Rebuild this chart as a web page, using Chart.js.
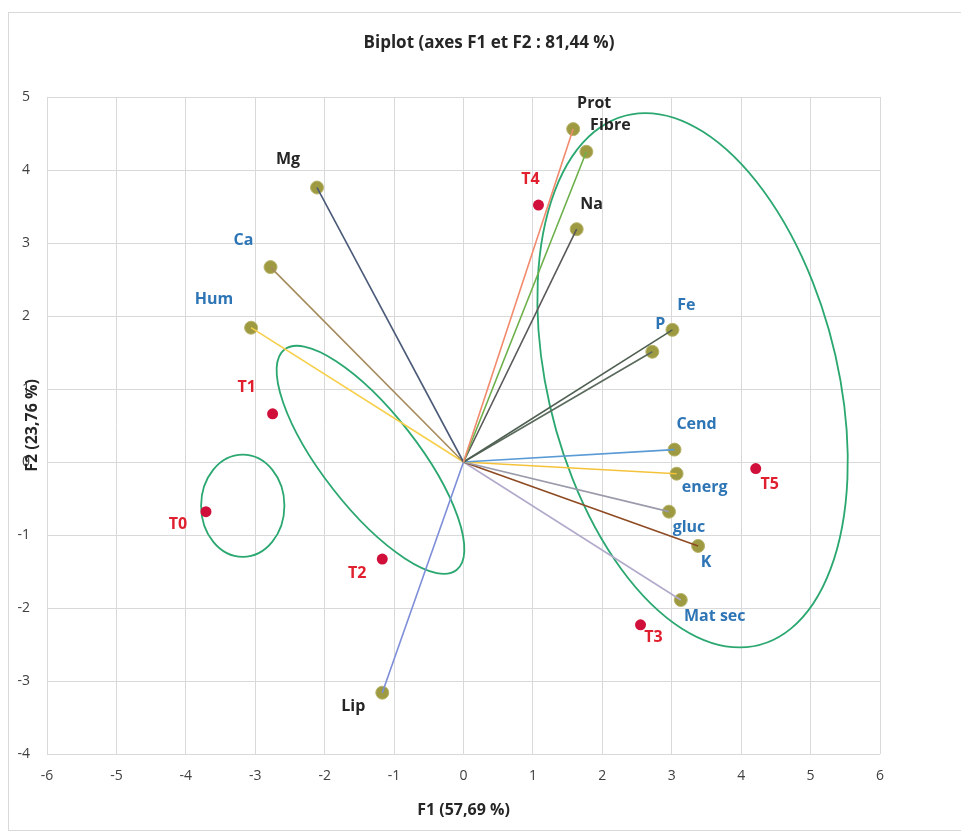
<!DOCTYPE html>
<html>
<head>
<meta charset="utf-8">
<script src="https://cdn.jsdelivr.net/npm/chart.js@4.4.1/dist/chart.umd.min.js"></script>
<style>
  html, body { margin: 0; padding: 0; background: #fff; }
  #wrap { position: relative; width: 961px; height: 833px; }
</style>
</head>
<body>
<div id="wrap"><canvas id="biplot" width="961" height="833"></canvas></div>
<script>
// Variables (vecteurs) : coordonnées sur F1 / F2
var variables = ['Prot', 'Fibre', 'Na', 'Mg', 'Ca', 'Hum', 'Lip', 'Fe', 'P', 'Cend', 'energ', 'gluc', 'K', 'Mat sec'];
var varF1 = [1.58, 1.77, 1.63, -2.11, -2.78, -3.06, -1.17, 3.01, 2.72, 3.04, 3.07, 2.96, 3.38, 3.13];
var varF2 = [4.56, 4.25, 3.19, 3.76, 2.67, 1.84, -3.16, 1.81, 1.51, 0.17, -0.16, -0.68, -1.15, -1.89];

// Observations
var observations = ['T0', 'T1', 'T2', 'T3', 'T4', 'T5'];
var obsF1 = [-3.71, -2.75, -1.17, 2.55, 1.08, 4.21];
var obsF2 = [-0.68, 0.66, -1.33, -2.23, 3.52, -0.09];

// Ellipses de regroupement : centre + demi-diamètres conjugués (unités des axes)
var ellipseCF1 = [-3.18, -1.34, 3.30];
var ellipseCF2 = [-0.60, 0.03, 1.12];
var ellipseU = [[0.60, 0], [-1.24, 1.51], [-0.68, 3.66]];
var ellipseV = [[0, 0.70], [0.54, 0.40], [2.13, 0]];

// Styles
var vectorColors = ['#F28A6E', '#6DB04A', '#595959', '#4A5A78', '#A58A5C', '#F7CF4A', '#7D8ED8',
  '#4F5F52', '#5A6A5C', '#5B9BD5', '#F5C33B', '#9A9AAA', '#8E4A22', '#B2AACB'];
var varLabelColors = ['#262626', '#262626', '#262626', '#262626', '#2E75B6', '#2E75B6', '#262626',
  '#2E75B6', '#2E75B6', '#2E75B6', '#2E75B6', '#2E75B6', '#2E75B6', '#2E75B6'];
var varLabelOffsets = [[21, -26], [24, -26], [15, -25], [-29, -28], [-27, -27], [-37, -28], [-29, 14],
  [14, -24], [8, -27], [22, -25], [28, 14], [20, 16], [8, 16], [34, 16]];
var obsLabelOffsets = [[-28, 13], [-26, -26], [-25, 14], [13, 13], [-8, -26], [14, 16]];

var labelFont = 'bold 16px "Open Sans", sans-serif';

var datasets = [];

// un segment par variable, depuis l'origine
variables.forEach(function (name, i) {
  datasets.push({
    label: name,
    type: 'line',
    data: [{ x: 0, y: 0 }, { x: varF1[i], y: varF2[i] }],
    borderColor: vectorColors[i],
    borderWidth: 1.6,
    pointRadius: 0,
    fill: false
  });
});

datasets.push({
  label: 'Variables',
  data: variables.map(function (n, i) { return { x: varF1[i], y: varF2[i] }; }),
  backgroundColor: '#9D9A42',
  borderColor: '#B8B36A',
  borderWidth: 1,
  pointRadius: 6.5
});

datasets.push({
  label: 'Observations',
  data: observations.map(function (n, i) { return { x: obsF1[i], y: obsF2[i] }; }),
  backgroundColor: '#D0103A',
  borderColor: '#D0103A',
  borderWidth: 0,
  pointRadius: 5.5
});

// Ellipses dessinées via les échelles
var ellipsePlugin = {
  id: 'ellipses',
  beforeDatasetsDraw: function (chart) {
    var c = chart.ctx, xs = chart.scales.x, ys = chart.scales.y;
    var x0 = xs.getPixelForValue(0), y0 = ys.getPixelForValue(0);
    c.save();
    c.strokeStyle = '#2BA770';
    c.lineWidth = 1.8;
    for (var i = 0; i < ellipseCF1.length; i++) {
      var cx = xs.getPixelForValue(ellipseCF1[i]);
      var cy = ys.getPixelForValue(ellipseCF2[i]);
      var ux = xs.getPixelForValue(ellipseU[i][0]) - x0;
      var uy = ys.getPixelForValue(ellipseU[i][1]) - y0;
      var vx = xs.getPixelForValue(ellipseV[i][0]) - x0;
      var vy = ys.getPixelForValue(ellipseV[i][1]) - y0;
      c.save();
      c.beginPath();
      c.transform(ux, uy, vx, vy, cx, cy);
      c.arc(0, 0, 1, 0, Math.PI * 2);
      c.restore();
      c.stroke();
    }
    c.restore();
  }
};

// Étiquettes des points
var labelPlugin = {
  id: 'pointLabels',
  afterDatasetsDraw: function (chart) {
    var c = chart.ctx, xs = chart.scales.x, ys = chart.scales.y;
    c.save();
    c.font = labelFont;
    c.textAlign = 'center';
    c.textBaseline = 'middle';
    variables.forEach(function (name, i) {
      c.fillStyle = varLabelColors[i];
      c.fillText(name, xs.getPixelForValue(varF1[i]) + varLabelOffsets[i][0],
        ys.getPixelForValue(varF2[i]) + varLabelOffsets[i][1]);
    });
    c.fillStyle = '#E0202E';
    observations.forEach(function (name, i) {
      c.fillText(name, xs.getPixelForValue(obsF1[i]) + obsLabelOffsets[i][0],
        ys.getPixelForValue(obsF2[i]) + obsLabelOffsets[i][1]);
    });
    c.restore();
  }
};

// Cadre, titre et titres d'axes
var framePlugin = {
  id: 'frame',
  afterDraw: function (chart) {
    var c = chart.ctx, a = chart.chartArea;
    c.save();
    c.strokeStyle = '#D9D9D9';
    c.lineWidth = 1;
    c.strokeRect(8.5, 12.5, 1000, 818);
    c.fillStyle = '#262626';
    c.textAlign = 'center';
    c.textBaseline = 'middle';
    c.font = 'bold 17px "Open Sans", sans-serif';
    c.fillText('Biplot (axes F1 et F2 : 81,44 %)', 489, 43);
    c.font = 'bold 16px "Open Sans", sans-serif';
    c.fillText('F1 (57,69 %)', (a.left + a.right) / 2, 810);
    c.translate(32, (a.top + a.bottom) / 2);
    c.rotate(-Math.PI / 2);
    c.fillText('F2 (23,76 %)', 0, 0);
    c.restore();
  }
};

new Chart(document.getElementById('biplot'), {
  type: 'scatter',
  data: { datasets: datasets },
  plugins: [ellipsePlugin, labelPlugin, framePlugin],
  options: {
    responsive: false,
    animation: false,
    layout: { padding: { top: 97, right: 81, left: 0, bottom: 0 } },
    plugins: {
      legend: { display: false },
      title: { display: false },
      tooltip: { enabled: false }
    },
    scales: {
      x: {
        type: 'linear',
        min: -6,
        max: 6,
        ticks: {
          stepSize: 1,
          padding: 14,
          color: '#404040',
          font: { family: '"Open Sans", sans-serif', size: 14 }
        },
        grid: { color: '#D9D9D9', drawTicks: false },
        border: { display: false },
        afterFit: function (scale) { scale.height = 79; }
      },
      y: {
        type: 'linear',
        min: -4,
        max: 5,
        ticks: {
          stepSize: 1,
          padding: 17,
          color: '#404040',
          font: { family: '"Open Sans", sans-serif', size: 14 }
        },
        grid: { color: '#D9D9D9', drawTicks: false },
        border: { display: false },
        afterFit: function (scale) { scale.width = 47; }
      }
    }
  }
});
</script>
</body>
</html>
